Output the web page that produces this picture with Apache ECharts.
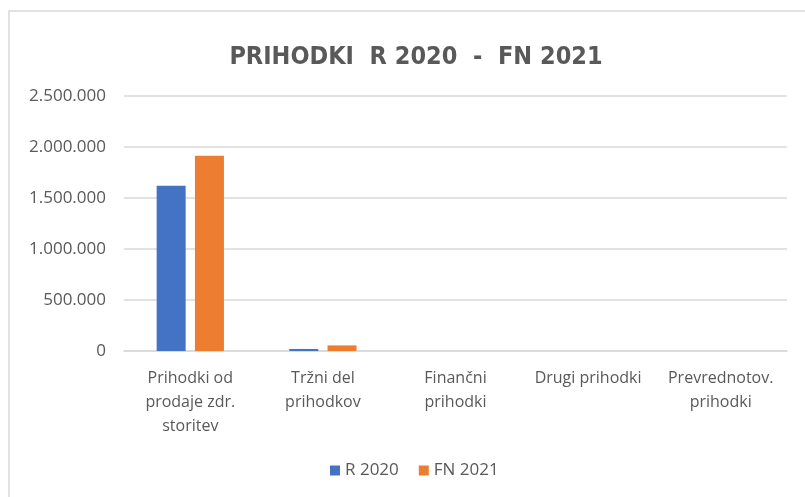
<!DOCTYPE html>
<html>
<head>
<meta charset="utf-8">
<script src="https://cdn.jsdelivr.net/npm/echarts@6/dist/echarts.min.js"></script>
<style>
  html, body { margin: 0; padding: 0; background: #fff; }
  #chart { width: 805px; height: 497px; }
</style>
</head>
<body>
<div id="chart"></div>
<script>
// podatki
var categories = ['Prihodki od\nprodaje zdr.\nstoritev', 'Tržni del\nprihodkov', 'Finančni\nprihodki', 'Drugi prihodki', 'Prevrednotov.\nprihodki'];
var r2020 = [1620000, 20000, 0, 0, 0];
var fn2021 = [1915000, 55000, 0, 0, 0];
var yTicks = [0, 500000, 1000000, 1500000, 2000000, 2500000];

var chart = echarts.init(document.getElementById('chart'));

function fmt(v) {
    return String(v).replace(/\B(?=(\d{3})+(?!\d))/g, '.');
}

var option = {
    animation: false,
    color: ['#4472C4', '#ED7D31'],
    textStyle: { fontFamily: 'Open Sans', color: '#595959' },
    title: {
        text: 'PRIHODKI  R 2020  -  FN 2021',
        left: 411,
        textAlign: 'center',
        top: 40,
        textStyle: {
            fontFamily: '"Liberation Sans Narrow", "DejaVu Sans Condensed", sans-serif',
            fontWeight: 'bold',
            fontSize: 25,
            color: '#595959'
        }
    },
    graphic: [{
        type: 'rect',
        shape: { x: 9, y: 11, width: 900, height: 600 },
        style: { fill: 'none', stroke: '#d9d9d9', lineWidth: 1.5 },
        silent: true
    }],
    legend: {
        data: ['R 2020', 'FN 2021'],
        bottom: 13,
        left: 325,
        itemWidth: 10,
        itemHeight: 10,
        itemGap: 20,
        icon: 'rect',
        textStyle: { fontSize: 17, color: '#595959' }
    },
    grid: { left: 124, right: 18, top: 96, bottom: 146 },
    xAxis: {
        type: 'category',
        data: categories,
        axisLine: { lineStyle: { color: '#d9d9d9', width: 1.5 } },
        axisTick: { show: false },
        axisLabel: {
            fontSize: 16,
            color: '#595959',
            lineHeight: 24,
            margin: 15,
            interval: 0
        }
    },
    yAxis: {
        type: 'value',
        min: yTicks[0],
        max: yTicks[yTicks.length - 1],
        interval: yTicks[1] - yTicks[0],
        axisLine: { show: false },
        axisTick: { show: false },
        splitLine: { lineStyle: { color: '#d9d9d9', width: 1.5 } },
        axisLabel: {
            fontSize: 17,
            color: '#595959',
            margin: 18,
            formatter: fmt
        }
    },
    series: [
        {
            name: 'R 2020',
            type: 'bar',
            data: r2020,
            barWidth: 29,
            barGap: '32%'
        },
        {
            name: 'FN 2021',
            type: 'bar',
            data: fn2021,
            barWidth: 29
        }
    ]
};

chart.setOption(option);

window.addEventListener('resize', function () {
    chart.resize();
});
</script>
</body>
</html>
